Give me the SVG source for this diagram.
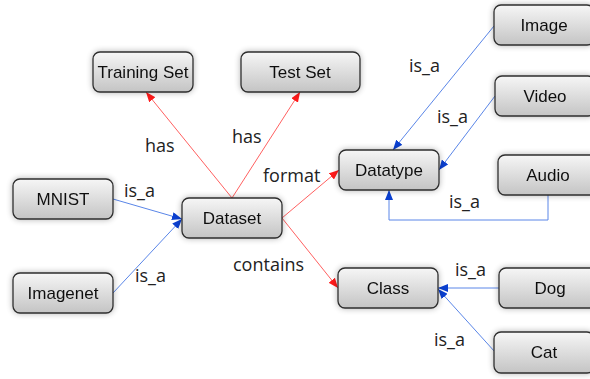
<svg xmlns="http://www.w3.org/2000/svg" width="590" height="379" viewBox="0 0 590 379">
  <defs>
    <linearGradient id="nodeFill" x1="0" y1="0" x2="0" y2="1">
      <stop offset="0" stop-color="#f6f6f6"/>
      <stop offset="1" stop-color="#c4c4c4"/>
    </linearGradient>
    <filter id="glow" x="-20%" y="-40%" width="140%" height="180%">
      <feGaussianBlur in="SourceAlpha" stdDeviation="3"/>
      <feComponentTransfer><feFuncA type="linear" slope="0.3"/></feComponentTransfer>
      <feMerge><feMergeNode/><feMergeNode in="SourceGraphic"/></feMerge>
    </filter>
    <marker id="arrRed" markerWidth="10" markerHeight="8" refX="10" refY="4" orient="auto" markerUnits="userSpaceOnUse">
      <path d="M0,0 L10,4 L0,8 z" fill="#ff1a1a"/>
    </marker>
    <marker id="arrBlue" markerWidth="10" markerHeight="8" refX="10" refY="4" orient="auto" markerUnits="userSpaceOnUse">
      <path d="M0,0 L10,4 L0,8 z" fill="#0a3fd0"/>
    </marker>
  </defs>
  <style>
    .box { fill: url(#nodeFill); stroke: #2e2e2e; stroke-width: 1.3; }
    .node { filter: url(#glow); }
    .nt { font-family: "Liberation Sans", Arial, sans-serif; font-size: 17px; fill: #111; text-anchor: middle; }
    .lbl { font-family: "Open Sans", "Liberation Sans", sans-serif; font-size: 18px; fill: #222; }
    .red { stroke: #ff6060; stroke-width: 1; fill: none; marker-end: url(#arrRed); }
    .blue { stroke: #5a86e8; stroke-width: 1; fill: none; marker-end: url(#arrBlue); }
  </style>
  <rect width="590" height="379" fill="#ffffff"/>

  <g id="connectors">
    <line class="red" x1="232" y1="198" x2="146" y2="92"/>
    <line class="red" x1="232" y1="198" x2="300" y2="92"/>
    <line class="red" x1="282" y1="218" x2="339" y2="170"/>
    <line class="red" x1="282" y1="218" x2="338" y2="288"/>
    <line class="blue" x1="113" y1="199" x2="182" y2="219"/>
    <line class="blue" x1="113" y1="293" x2="182" y2="219"/>
    <line class="blue" x1="494" y1="26" x2="393" y2="150"/>
    <line class="blue" x1="495" y1="96" x2="439" y2="170"/>
    <path class="blue" d="M548,195 V220 H389 V190"/>
    <line class="blue" x1="499" y1="288" x2="438" y2="288"/>
    <line class="blue" x1="495" y1="352" x2="438" y2="289"/>
  </g>

  <g id="labels">
    <text class="lbl" x="145" y="152">has</text>
    <text class="lbl" x="232" y="143">has</text>
    <text class="lbl" x="263" y="182">format</text>
    <text class="lbl" x="233" y="271">contains</text>
    <text class="lbl" x="124" y="197">is_a</text>
    <text class="lbl" x="135" y="282">is_a</text>
    <text class="lbl" x="409" y="72">is_a</text>
    <text class="lbl" x="437" y="123">is_a</text>
    <text class="lbl" x="449" y="208">is_a</text>
    <text class="lbl" x="455" y="276">is_a</text>
    <text class="lbl" x="434" y="346">is_a</text>
  </g>

  <g id="training-set" class="node"><rect class="box" x="93" y="52" width="100" height="40" rx="7"/><text class="nt" x="143" y="78">Training Set</text></g>
  <g id="test-set" class="node"><rect class="box" x="241" y="52" width="119" height="40" rx="7"/><text class="nt" x="300" y="78">Test Set</text></g>
  <g id="dataset" class="node"><rect class="box" x="182" y="198" width="100" height="40" rx="7"/><text class="nt" x="232" y="224">Dataset</text></g>
  <g id="mnist" class="node"><rect class="box" x="13" y="179" width="100" height="40" rx="7"/><text class="nt" x="63" y="205">MNIST</text></g>
  <g id="imagenet" class="node"><rect class="box" x="13" y="273" width="100" height="40" rx="7"/><text class="nt" x="63" y="299">Imagenet</text></g>
  <g id="datatype" class="node"><rect class="box" x="339" y="150" width="100" height="40" rx="7"/><text class="nt" x="389" y="176">Datatype</text></g>
  <g id="class" class="node"><rect class="box" x="338" y="268" width="100" height="40" rx="7"/><text class="nt" x="388" y="294">Class</text></g>
  <g id="image" class="node"><rect class="box" x="494" y="5" width="100" height="40" rx="7"/><text class="nt" x="544" y="31">Image</text></g>
  <g id="video" class="node"><rect class="box" x="495" y="76" width="100" height="40" rx="7"/><text class="nt" x="545" y="102">Video</text></g>
  <g id="audio" class="node"><rect class="box" x="498" y="155" width="100" height="40" rx="7"/><text class="nt" x="548" y="181">Audio</text></g>
  <g id="dog" class="node"><rect class="box" x="499" y="268" width="100" height="40" rx="7"/><text class="nt" x="550" y="294">Dog</text></g>
  <g id="cat" class="node"><rect class="box" x="494" y="332" width="100" height="41" rx="7"/><text class="nt" x="544" y="358">Cat</text></g>
</svg>
